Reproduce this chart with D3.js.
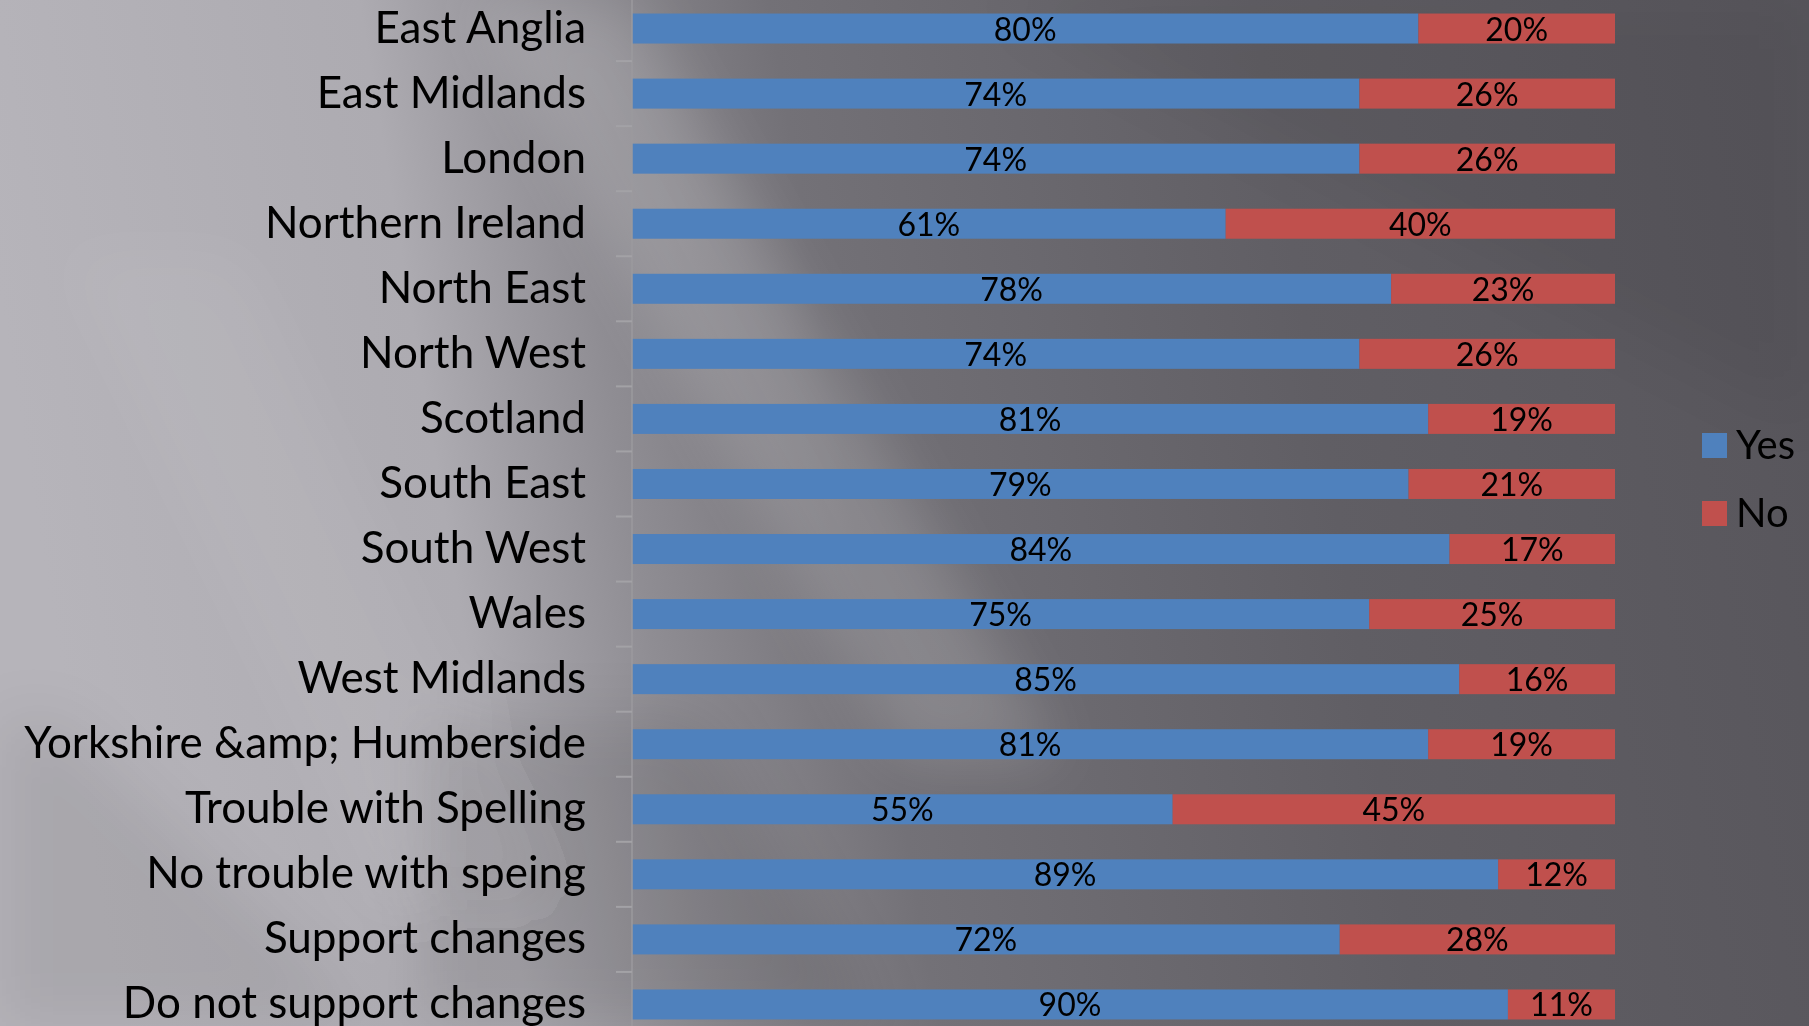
<!DOCTYPE html>
<html>
<head>
<meta charset="utf-8">
<script src="https://cdn.jsdelivr.net/npm/d3@7"></script>
<style>
  html, body { margin: 0; padding: 0; background: #6a686e; }
  svg { display: block; }
  text { font-family: Lato, "Open Sans", sans-serif; fill: #000; }
</style>
</head>
<body>
<svg id="chart" width="1809" height="1026"></svg>
<script>
const categories = [
  "East Anglia", "East Midlands", "London", "Northern Ireland", "North East",
  "North West", "Scotland", "South East", "South West", "Wales",
  "West Midlands", "Yorkshire &amp; Humberside", "Trouble with Spelling",
  "No trouble with speing", "Support changes", "Do not support changes"
];
const yesValues = [80, 74, 74, 61, 78, 74, 81, 79, 84, 75, 85, 81, 55, 89, 72, 90];
const noValues  = [20, 26, 26, 40, 23, 26, 19, 21, 17, 25, 16, 19, 45, 12, 28, 11];
const seriesNames = ["Yes", "No"];
const seriesColors = ["#4f81bd", "#c0504d"];

const W = 1809, H = 1026;
const svg = d3.select("#chart");

// ---- background ----
const defs = svg.append("defs");
const bg = defs.append("linearGradient").attr("id", "bg")
  .attr("gradientUnits", "userSpaceOnUse")
  .attr("x1", 0).attr("y1", 300).attr("x2", 1809).attr("y2", 0);
[[0, "#b6b4ba"], [0.22, "#adabb1"], [0.32, "#8f8d93"], [0.44, "#737177"],
 [0.7, "#605e64"], [1, "#57555b"]].forEach(([o, c]) =>
  bg.append("stop").attr("offset", o).attr("stop-color", c));
defs.append("filter").attr("id", "blur").append("feGaussianBlur").attr("stdDeviation", 30);
svg.append("rect").attr("width", W).attr("height", H).attr("fill", "url(#bg)");

// diagonal soft streaks
const streaks = [
  {pts: [[470, 0], [630, 0], [1060, 760], [900, 760]], c: "#ffffff", o: 0.16},
  {pts: [[60, 250], [240, 250], [560, 900], [380, 900]], c: "#ffffff", o: 0.05},
  {pts: [[420, 720], [700, 720], [880, 1026], [420, 1026]], c: "#000000", o: 0.10},
  {pts: [[0, 720], [60, 720], [380, 1026], [0, 1026]], c: "#000000", o: 0.07},
  {pts: [[1000, 0], [1809, 0], [1809, 420]], c: "#000000", o: 0.05}
];
svg.append("g").attr("filter", "url(#blur)").selectAll("polygon").data(streaks).join("polygon")
  .attr("points", d => d.pts.map(p => p.join(",")).join(" "))
  .attr("fill", d => d.c).attr("opacity", d => d.o);

// ---- scales ----
const pad = 0.539;
const y = d3.scaleBand().domain(categories).range([-4, 1037])
  .paddingInner(pad).paddingOuter(pad / 2);
const x = d3.scaleLinear().domain([0, 1]).range([632, 1615]);
const color = d3.scaleOrdinal().domain(seriesNames).range(seriesColors);

const rows = categories.map((c, i) => {
  const t = yesValues[i] + noValues[i];
  return {cat: c, yes: yesValues[i], no: noValues[i], yf: yesValues[i] / t};
});

// ---- bars ----
const g = svg.append("g");
const segs = [];
rows.forEach(r => {
  segs.push({cat: r.cat, s: "Yes", x0: 0, x1: r.yf, v: r.yes});
  segs.push({cat: r.cat, s: "No", x0: r.yf, x1: 1, v: r.no});
});
g.selectAll("rect.bar").data(segs).join("rect").attr("class", "bar")
  .attr("x", d => x(d.x0)).attr("width", d => x(d.x1) - x(d.x0))
  .attr("y", d => y(d.cat)).attr("height", y.bandwidth())
  .attr("fill", d => color(d.s));

g.selectAll("text.val").data(segs).join("text").attr("class", "val")
  .attr("x", d => (x(d.x0) + x(d.x1)) / 2)
  .attr("y", d => y(d.cat) + y.bandwidth() / 2 + 12)
  .attr("text-anchor", "middle")
  .style("font-size", "32px")
  .text(d => d.v + "%");

// ---- axis ----
const axis = d3.axisLeft(y).tickSize(0).tickPadding(46);
const ag = svg.append("g").attr("transform", `translate(${x(0)},0)`).call(axis);
ag.select(".domain").remove();
ag.selectAll(".tick text")
  .style("font-size", "44px")
  .attr("dy", null)
  .attr("y", 14);

const step = y.step();
const bounds = categories.slice(1).map(c => y(c) - step * pad / 2);
svg.append("line").attr("x1", x(0)).attr("x2", x(0))
  .attr("y1", y.range()[0]).attr("y2", y.range()[1])
  .attr("stroke", "#9b9a9e").attr("stroke-width", 1.5);
svg.append("g").selectAll("line").data(bounds).join("line")
  .attr("x1", x(0) - 16).attr("x2", x(0))
  .attr("y1", d => d).attr("y2", d => d)
  .attr("stroke", "#a3a2a6").attr("stroke-width", 2);

// ---- legend ----
const lg = svg.append("g").attr("transform", "translate(1702,433)");
const li = lg.selectAll("g").data(seriesNames).join("g")
  .attr("transform", (d, i) => `translate(0,${i * 68})`);
li.append("rect").attr("width", 25).attr("height", 25).attr("fill", d => color(d));
li.append("text").attr("x", 34).attr("y", 26).style("font-size", "40px").text(d => d);
</script>
</body>
</html>
